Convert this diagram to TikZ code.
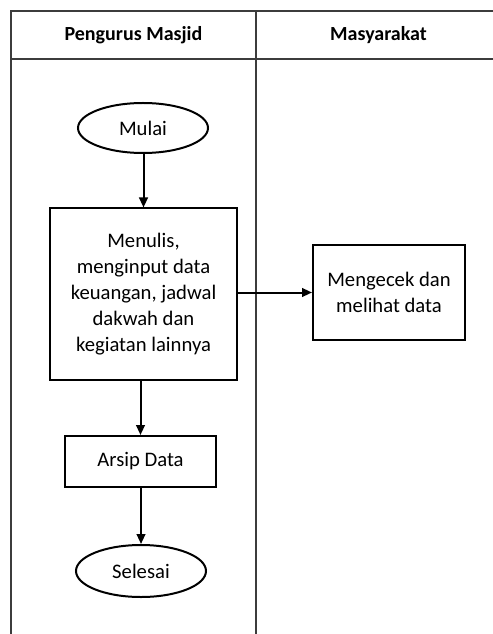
\documentclass[tikz,border=0pt]{standalone}
\usepackage{fontspec}
\setmainfont{Carlito}
\usetikzlibrary{shapes.geometric,arrows.meta}

\tikzset{every picture/.style={line width=0.75pt}}
\tikzset{
  lane/.style={color={rgb, 255:red, 60; green, 60; blue, 60 }, line width=0.9pt},
  startstop/.style={draw, ellipse, line width=1.5pt, minimum width=97.5pt, minimum height=37.5pt, inner sep=0pt},
  procbox/.style={draw, rectangle, line width=1.5pt, align=center, inner sep=0pt},
  flow/.style={line width=1.5pt, -{Triangle[length=7.5pt,width=6.5pt]}},
  boxtext/.style={font=\fontsize{15.5}{19.5}\selectfont},
  headtext/.style={font=\fontsize{15}{19.5}\selectfont\bfseries}
}

\begin{document}
\begin{tikzpicture}[x=0.75pt,y=0.75pt,yscale=-1,xscale=1]
\useasboundingbox (0,0) rectangle (492,634);

%Swimlane table
\draw [lane] (11,634) -- (11,11) -- (500,11) ;
\draw [lane] (11,59) -- (500,59) ;
\draw [lane] (256,11) -- (256,634) ;

% Lane headers
\node [headtext] (hpengurus) at (133.5,35) {Pengurus Masjid};
\node [headtext] (hmasy) at (378.5,35) {Masyarakat};

% Flow nodes
\node [startstop, boxtext] (mulai) at (143,128) {Mulai};
\node [procbox, boxtext, minimum width=140.25pt, minimum height=128.25pt] (tulis) at (143.5,294) {Menulis,\\menginput data\\keuangan, jadwal\\dakwah dan\\kegiatan lainnya};
\node [procbox, boxtext, minimum width=114pt, minimum height=71.25pt] (cek) at (389,292.5) {Mengecek dan\\melihat data};
\node [procbox, boxtext, minimum width=113.25pt, minimum height=38.25pt] (arsip) at (140.5,461.5) {Arsip Data};
\node [startstop, boxtext, minimum height=39pt] (selesai) at (141,571) {Selesai};

% Connectors
\draw [flow] (mulai.south -| tulis.north) -- (tulis.north) ;
\draw [flow] (tulis.east |- cek.west) -- (cek.west) ;
\draw [flow] (tulis.south -| arsip.north) -- (arsip.north) ;
\draw [flow] (arsip.south -| selesai.north) -- (selesai.north) ;
\end{tikzpicture}
\end{document}
